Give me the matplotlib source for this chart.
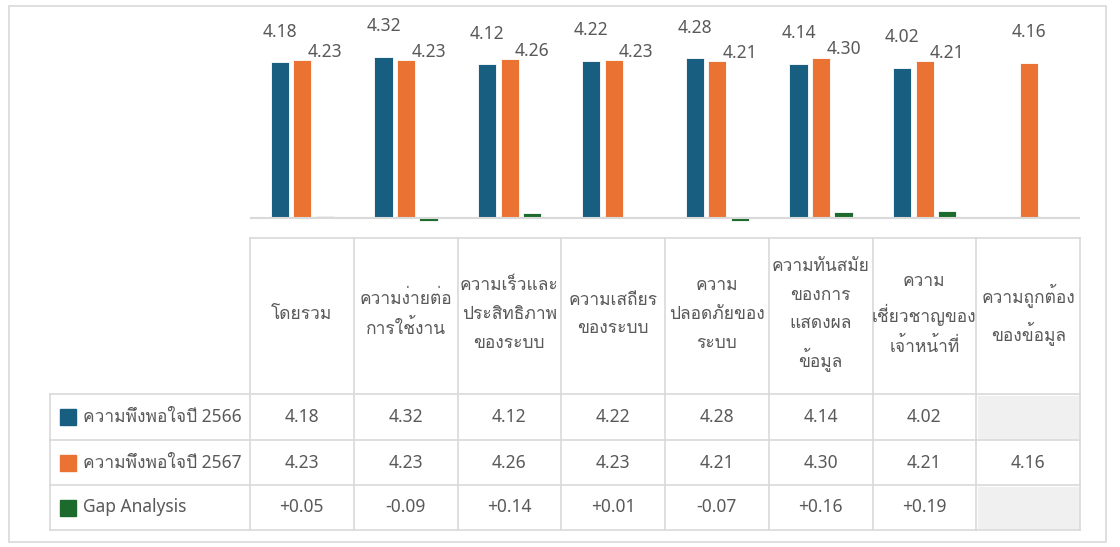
import matplotlib
matplotlib.use('Agg')
import matplotlib.pyplot as plt
import numpy as np
from matplotlib.patches import Rectangle

categories = ['โดยรวม', 'ความง่ายต่อ\nการใช้งาน', 'ความเร็วและ\nประสิทธิภาพ\nของระบบ',
              'ความเสถียร\nของระบบ', 'ความ\nปลอดภัยของ\nระบบ', 'ความทันสมัย\nของการ\nแสดงผล\nข้อมูล',
              'ความ\nเชี่ยวชาญของ\nเจ้าหน้าที่', 'ความถูกต้อง\nของข้อมูล']
sat_2566 = [4.18, 4.32, 4.12, 4.22, 4.28, 4.14, 4.02, np.nan]
sat_2567 = [4.23, 4.23, 4.26, 4.23, 4.21, 4.30, 4.21, 4.16]
gap = [0.05, -0.09, 0.14, 0.01, -0.07, 0.16, 0.19, np.nan]
series_names = ['ความพึงพอใจปี 2566', 'ความพึงพอใจปี 2567', 'Gap Analysis']
colors = ['#175e80', '#ea7333', '#1c6b2c']

# Noto Sans for latin/digits, Loma picks up the thai glyphs
plt.rcParams['font.family'] = ['Noto Sans', 'Loma', 'Garuda', 'DejaVu Sans']
txt_color = '#595959'
grid_color = '#d9d9d9'
fs = 12.5

W, H = 1120, 547
fig = plt.figure(figsize=(W / 100, H / 100), dpi=100)

# overlay axes in pixel coords for frame + table
bg = fig.add_axes([0, 0, 1, 1])
bg.set_xlim(0, W)
bg.set_ylim(H, 0)
bg.axis('off')
bg.add_patch(Rectangle((9, 6), 1097, 536, fill=False, ec=grid_color, lw=1.2))

# bar chart area: x 250..1080, baseline at y=218
x0, x1 = 250, 1080
px_per_unit = 37.3
ax_top, ax_bot = 8, 232
ax = fig.add_axes([x0 / W, 1 - ax_bot / H, (x1 - x0) / W, (ax_bot - ax_top) / H])
n = len(categories)
ax.set_xlim(-0.5, n - 0.5)
ax.set_ylim(-(ax_bot - 218) / px_per_unit, (218 - ax_top) / px_per_unit)
ax.axis('off')
ax.axhline(0, color=grid_color, lw=1.5)

x = np.arange(n)
bw = 0.175
offs = [-0.213, 0.005, 0.22]
for vals, off, c in zip([sat_2566, sat_2567, gap], offs, colors):
    ax.bar(x + off, vals, bw, color=c, edgecolor='white', lw=0.6)

for i in range(n):
    if not np.isnan(sat_2566[i]):
        ax.annotate(f'{sat_2566[i]:.2f}', (i + offs[0], sat_2566[i]), xytext=(0, 22),
                    textcoords='offset points', ha='center', va='center', fontsize=fs, color=txt_color)
    if np.isnan(gap[i]):
        ax.annotate(f'{sat_2567[i]:.2f}', (i + offs[1], sat_2567[i]), xytext=(0, 22),
                    textcoords='offset points', ha='center', va='center', fontsize=fs, color=txt_color)
    else:
        ax.annotate(f'{sat_2567[i]:.2f}', (i + offs[2], sat_2567[i]), xytext=(0, 6),
                    textcoords='offset points', ha='center', va='center', fontsize=fs, color=txt_color)

# table
col_w = (x1 - x0) / n
head_top, rows_y = 238, [394, 440, 485, 530]
tab_left = 50
for j in range(n + 1):
    xx = x0 + j * col_w
    bg.plot([xx, xx], [head_top, rows_y[-1]], color=grid_color, lw=1.2)
bg.plot([x0, x1], [head_top, head_top], color=grid_color, lw=1.2)
for yy in rows_y:
    bg.plot([tab_left, x1], [yy, yy], color=grid_color, lw=1.2)
bg.plot([tab_left, tab_left], [rows_y[0], rows_y[-1]], color=grid_color, lw=1.2)

for j, cat in enumerate(categories):
    bg.text(x0 + (j + 0.5) * col_w, 314, cat, ha='center', va='center', fontsize=fs,
            color=txt_color, linespacing=1.75)

row_vals = [sat_2566, sat_2567, gap]
for r in range(3):
    yc = (rows_y[r] + rows_y[r + 1]) / 2
    bg.add_patch(Rectangle((60, yc - 8), 16, 16, color=colors[r]))
    bg.text(83, yc, series_names[r], ha='left', va='center', fontsize=fs, color=txt_color)
    for j in range(n):
        v = row_vals[r][j]
        if np.isnan(v):
            bg.add_patch(Rectangle((x0 + j * col_w + 2, rows_y[r] + 2), col_w - 4,
                                   rows_y[r + 1] - rows_y[r] - 4, color='#f0f0f0'))
            continue
        s = f'{v:+.2f}' if r == 2 else f'{v:.2f}'
        bg.text(x0 + (j + 0.5) * col_w, yc, s, ha='center', va='center', fontsize=fs, color=txt_color)

fig.savefig('out.png', dpi=100)
